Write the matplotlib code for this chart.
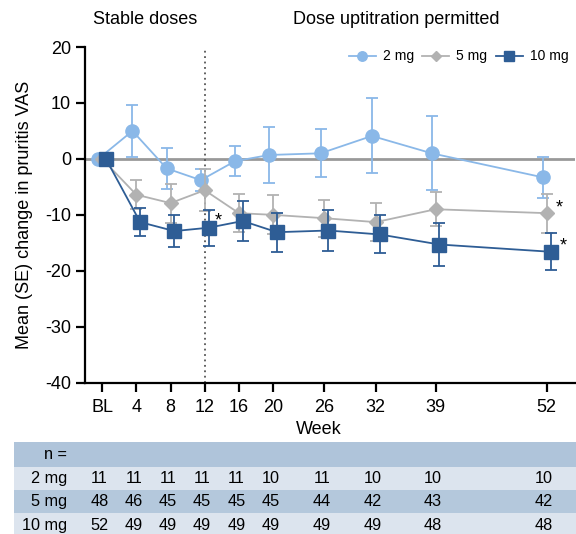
import matplotlib
matplotlib.use("Agg")
import matplotlib.pyplot as plt
from matplotlib.patches import Rectangle
import matplotlib.transforms as mtransforms

plt.rcParams['font.family'] = ['Liberation Sans', 'DejaVu Sans']
plt.rcParams['axes.unicode_minus'] = False

weeks = [0, 4, 8, 12, 16, 20, 26, 32, 39, 52]
week_labels = ["BL", "4", "8", "12", "16", "20", "26", "32", "39", "52"]

mean_2mg = [0, 5.0, -1.7, -3.8, -0.4, 0.7, 1.0, 4.1, 1.0, -3.3]
se_2mg = [0, 4.7, 3.6, 2.0, 2.7, 5.0, 4.3, 6.7, 6.6, 3.7]
mean_5mg = [0, -6.4, -7.9, -5.6, -9.7, -10.0, -10.6, -11.3, -9.0, -9.7]
se_5mg = [0, 2.6, 3.5, 3.8, 3.4, 3.5, 3.3, 3.4, 3.0, 3.5]
mean_10mg = [0, -11.3, -12.9, -12.3, -11.1, -13.1, -12.8, -13.5, -15.3, -16.6]
se_10mg = [0, 2.5, 2.8, 3.2, 3.5, 3.5, 3.6, 3.4, 3.8, 3.3]

n_2mg = [11, 11, 11, 11, 11, 10, 11, 10, 10, 10]
n_5mg = [48, 46, 45, 45, 45, 45, 44, 42, 43, 42]
n_10mg = [52, 49, 49, 49, 49, 49, 49, 49, 48, 48]

W, H = 576, 534
fig = plt.figure(figsize=(W / 100, H / 100), dpi=100)

def fx(px):
    return px / W

def fy(py):
    return 1 - py / H

ax = fig.add_axes([fx(85), fy(382.7), fx(575) - fx(85), fy(47) - fy(382.7)])
ax.set_xlim(-2, 55.3)
ax.set_ylim(-40, 20)

c2, c5, c10 = "#8AB8E8", "#B2B2B2", "#2E5D95"

ax.axhline(0, color="#999999", lw=2, zorder=1)
ax.axvline(12, color="#555555", lw=1.3, ls=(0, (1, 2)), zorder=1, ymax=0.99)

series = [
    ("2 mg", mean_2mg, se_2mg, c2, "o", 9.5, -0.45, 3),
    ("5 mg", mean_5mg, se_5mg, c5, "D", 7.5, 0.0, 4),
    ("10 mg", mean_10mg, se_10mg, c10, "s", 10, 0.45, 5),
]
handles = []
for label, m, s, c, mk, ms, off, z in series:
    xs = [w + off for w in weeks]
    ax.errorbar(xs[1:], m[1:], yerr=s[1:], fmt="none", ecolor=c, elinewidth=1.3,
                capsize=4, capthick=1.3, zorder=z)
    ax.plot(xs, m, color=c, lw=1.3, marker=mk, ms=ms, mec=c, mfc=c, zorder=z + 0.5)
    handles.append(ax.plot([], [], color=c, lw=1.3, marker=mk, ms=ms * 0.72, mfc=c, mec=c)[0])

leg = ax.legend(handles, ["2 mg", "5 mg", "10 mg"], loc="upper right", ncol=3,
                frameon=False, fontsize=10, bbox_to_anchor=(1.012, 1.03),
                handlelength=1.95, columnspacing=0.6, handletextpad=0.5)

# asterisks
ax.annotate("*", (12 + 0.45, mean_10mg[3]), xytext=(7, 5), textcoords="offset points",
            fontsize=13, ha="center", va="center")
ax.annotate("*", (52, mean_5mg[9]), xytext=(9, 4), textcoords="offset points",
            fontsize=13, ha="center", va="center")
ax.annotate("*", (52 + 0.45, mean_10mg[9]), xytext=(9, 4), textcoords="offset points",
            fontsize=13, ha="center", va="center")

for sp in ["top", "right"]:
    ax.spines[sp].set_visible(False)
for sp in ["left", "bottom"]:
    ax.spines[sp].set_linewidth(1.6)
ax.set_xticks(weeks)
ax.set_xticklabels(week_labels)
ax.set_yticks(range(-40, 21, 10))
ax.tick_params(axis="both", labelsize=13, width=1.6, length=6.5, direction="out")
ax.tick_params(axis="x", pad=5)
ax.set_ylabel("Mean (SE) change in pruritis VAS", fontsize=13, labelpad=9)

fig.text(fx(145), fy(20), "Stable doses", ha="center", va="center", fontsize=13)
fig.text(fx(396), fy(20), "Dose uptitration permitted", ha="center", va="center", fontsize=13)
fig.text(fx(319), fy(430), "Week", ha="center", va="center", fontsize=13)

# n table
row_edges = [442, 466.7, 490, 513.3, 537]
row_colors = ["#AFC4DA", "#DCE4EE", "#B4C8DC", "#DCE4EE"]
for i, col in enumerate(row_colors):
    y0, y1 = row_edges[i], row_edges[i + 1]
    fig.patches.append(Rectangle((fx(14), fy(y1)), fx(576) - fx(14), fy(y0) - fy(y1),
                                 transform=fig.transFigure, facecolor=col, edgecolor="none",
                                 zorder=-1))
trans = mtransforms.blended_transform_factory(ax.transData, fig.transFigure)
row_labels = ["n =", "2 mg", "5 mg", "10 mg"]
row_data = [None, n_2mg, n_5mg, n_10mg]
for i, (lab, data) in enumerate(zip(row_labels, row_data)):
    yc = fy((row_edges[i] + row_edges[i + 1]) / 2)
    fig.text(fx(67), yc, lab, ha="right", va="center", fontsize=11.7)
    if data is not None:
        for w, v in zip(weeks, data):
            ax.text(w - 0.3, yc, str(v), transform=trans, ha="center", va="center",
                    fontsize=11.7, clip_on=False)

fig.savefig("out.png", dpi=100)
